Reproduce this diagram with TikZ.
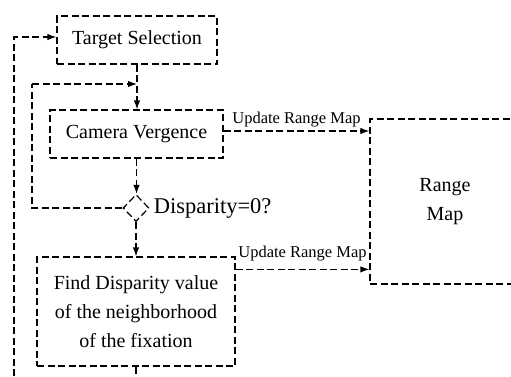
\documentclass[tikz,border=0pt]{standalone}
\usepackage{fontspec}
\setmainfont{Liberation Serif}
\usetikzlibrary{arrows.meta,positioning,calc,shapes.geometric}
\tikzset{
  >={Latex[length=9pt,width=6.5pt]},
  flow/.style={draw=black,line width=1.2pt,dash pattern=on 7pt off 3.5pt},
  box/.style={flow,rectangle,align=center,inner sep=0pt,font=\fontsize{20}{29}\selectfont},
  dbox/.style={flow,diamond,inner sep=0pt,minimum width=26pt,minimum height=27pt},
  lab/.style={font=\fontsize{16.5}{18}\selectfont,inner sep=1pt},
  arr/.style={flow,->},
  ln/.style={flow},
}

\begin{document}
\begin{tikzpicture}[x=1pt,y=1pt]
\useasboundingbox (0,0) rectangle (511,376);
% main column
\node[box,minimum width=160pt,minimum height=48pt] (target) at (137,336) {Target Selection};
\node[box,minimum width=173pt,minimum height=48pt] (verg) at (136.5,242) {Camera Vergence};
\node[dbox] (disp) at (136,168) {};
\node[right=4pt of disp,font=\fontsize{22.5}{24}\selectfont,inner sep=0pt] (dlab) {Disparity=0?};
\node[box,minimum width=198pt,minimum height=109pt] (find) at (136,64.5)
  {Find Disparity value\\of the neighborhood\\of the fixation};
% map on the right
\node[box,minimum width=150pt,minimum height=165pt] (rmap) at (445,174.5) {Range\\Map};
% loop points
\coordinate (lpa) at (32,292);
\coordinate (lpc) at (14,0);
\coordinate (bt) at (136,0);
\draw[arr] (target.south) -- (target.south |- verg.north);
\draw[arr] (verg.south) -- (verg.south |- disp.north);
\draw[arr] (disp.south) -- (disp.south |- find.north);
\draw[ln] (disp.west) -| (lpa);
\draw[arr] (lpa) -- (lpa -| target.south);
\draw[arr] (lpc) |- ([yshift=3pt]target.west);
\draw[ln] (find.south) -- (find.south |- bt);
\draw[arr] ([yshift=3pt]verg.east) -- ([yshift=3pt]verg.east -| rmap.west)
  node[midway,above=2pt,lab] (u1) {Update Range Map};
\draw[arr] ([yshift=-13pt]find.north east) -- ([yshift=-13pt]find.north east -| rmap.west)
  node[midway,above=7pt,lab] (u2) {Update Range Map};
\end{tikzpicture}
\end{document}
